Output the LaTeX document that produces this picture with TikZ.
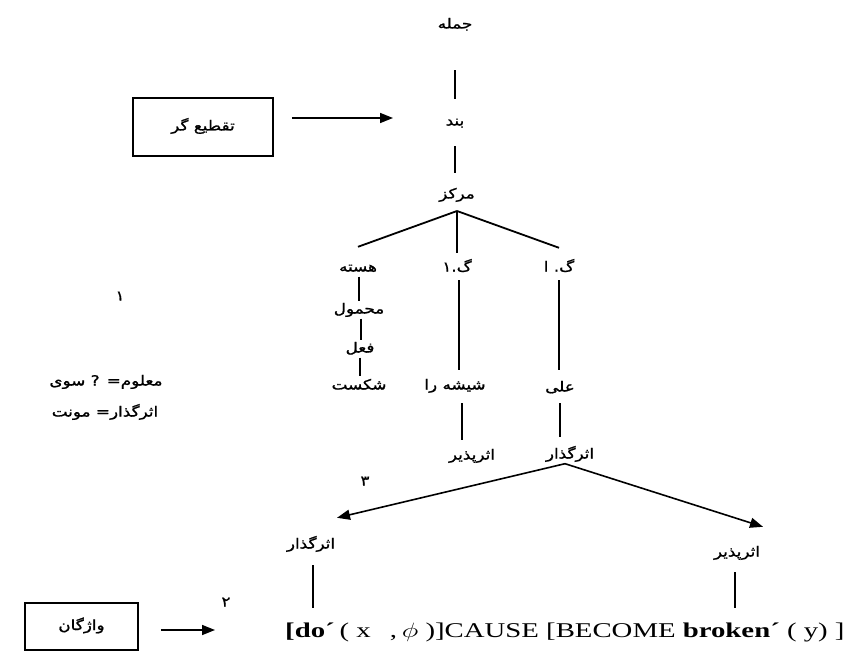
\documentclass[tikz,border=0pt]{standalone}
\usepackage{fontspec}
\usepackage{graphicx}
\setmainfont{Liberation Serif}
\newfontfamily\fa[Script=Arabic, FakeStretch=1.2, FakeBold=1.2]{DejaVu Sans}
\usetikzlibrary{arrows.meta}
\newcommand\cl[1]{\hbox{#1}}
\begin{document}
\begin{tikzpicture}[x=1pt,y=-1pt,
  lbl/.style={font=\fa\fontsize{14}{16}\selectfont, inner sep=0pt, text height=12pt, text depth=5pt},
  ln/.style={line width=1.8pt},
  arr/.style={line width=1.6pt, -{Triangle[length=13pt,width=10pt]}},
  boxed/.style={draw, line width=1.8pt, inner sep=0pt}]
\fill[white] (0,0) rectangle (850,652);
\useasboundingbox (0,0) rectangle (850,652);
% tree nodes
\node[lbl] (jomle) at (455,25) {جمله};
\node[lbl] (band) at (455,122) {بند};
\node[lbl] (markaz) at (457,195) {\cl{کز}\cl{مر}};
\coordinate (apex) at (457,211);
\node[lbl] (haste) at (358,268) {هسته};
\node[lbl] (ga1) at (457,268) {\cl{۱}\cl{.}\cl{گ}};
\node[lbl] (ga2) at (559,268) {\cl{ا}\ \cl{.}\cl{گ}};
\node[lbl] (mahmul) at (359,310) {\cl{ل}\cl{محمو}};
\node[lbl] (feel) at (360,349) {فعل};
\node[lbl] (shekast) at (359,386) {شکست};
\node[lbl] (shishe) at (455,386) {\cl{ا}\cl{ر}\ \cl{شیشه}};
\node[lbl] (ali) at (560,388) {علی};
\node[lbl] (asarpaz1) at (472,456) {\cl{یر}\cl{پذ}\cl{ثر}\cl{ا}};
\node[lbl] (asargoz1) at (570,455) {\cl{ر}\cl{ا}\cl{گذ}\cl{ثر}\cl{ا}};
\coordinate (split) at ([xshift=-5pt]asargoz1.south);
\node[lbl] (asargoz2) at (311,545) {\cl{ر}\cl{ا}\cl{گذ}\cl{ثر}\cl{ا}};
\node[lbl] (asarpaz2) at (737,553) {\cl{یر}\cl{پذ}\cl{ثر}\cl{ا}};
\node[anchor=base west, inner sep=0pt, text height=15pt, text depth=6pt] (formula) at (285,637)
  {\scalebox{1.37}[1]{\fontsize{21}{24}\selectfont\textbf{[do´}\,( x\hspace{14pt},\,$\phi$ )]CAUSE [BECOME \textbf{broken´} ( y) ]}};
% numbers and side notes
\node[lbl] (n1) at (120,297) {۱};
\node[lbl] (n2) at (226,603) {۲};
\node[lbl] (n3) at (365,482) {۳};
\node[lbl] (note1) at (106,382) {\cl{ی}\cl{سو} ? =\cl{م}\cl{معلو}};
\node[lbl] (note2) at (105,413) {\cl{نت}\cl{مو} =\cl{ر}\cl{ا}\cl{گذ}\cl{ثر}\cl{ا}};
% boxes
\node[boxed, lbl, minimum width=140pt, minimum height=58pt] (taqti) at (203,127) {\cl{گر}\ \cl{تقطیع}};
\node[boxed, lbl, minimum width=113pt, minimum height=47pt] (vaz) at (81.5,626.5) {\cl{ن}\cl{گا}\cl{ژ}\cl{ا}\cl{و}};
% tree lines
\draw[ln, shorten <=36.5pt, shorten >=14.5pt] (jomle.south) -- (jomle.south |- band.north);
\draw[ln, shorten <=15.5pt, shorten >=13.5pt] (band.south) -- (band.south |- markaz.north);
\draw[ln] (apex) -- ([yshift=12.5pt]haste.north);
\draw[ln] (apex) -- ([yshift=6.5pt]ga1.north);
\draw[ln] (apex) -- ([yshift=11.5pt]ga2.north);
\draw[ln] ([xshift=1pt]haste.south) -- ([xshift=1pt]haste.south |- mahmul.north);
\draw[ln] ([xshift=2pt]mahmul.south) -- ([xshift=2pt]mahmul.south |- feel.north);
\draw[ln, shorten >=1pt] (feel.south) -- (feel.south |- shekast.north);
\draw[ln, shorten <=3.5pt, shorten >=7.5pt] ([xshift=2pt]ga1.south) -- ([xshift=2pt]ga1.south |- shishe.north);
\draw[ln, shorten <=3.5pt, shorten >=9.5pt] (ga2.south) -- (ga2.south |- ali.north);
\draw[ln, shorten <=8.5pt, shorten >=7.5pt] ([xshift=7pt]shishe.south) -- ([xshift=7pt]shishe.south |- asarpaz1.north);
\draw[ln, shorten <=6.5pt, shorten >=9.5pt] (ali.south) -- (ali.south |- asargoz1.north);
\draw[arr] (split) -- ([xshift=26pt,yshift=18.5pt]asargoz2.north);
\draw[arr] (split) -- ([xshift=26pt,yshift=17.5pt]asarpaz2.north);
\draw[ln, shorten <=11.5pt, shorten >=14pt] ([xshift=2pt]asargoz2.south) -- ([xshift=2pt]asargoz2.south |- formula.north);
\draw[ln, shorten <=10.5pt, shorten >=14pt] ([xshift=-2pt]asarpaz2.south) -- ([xshift=-2pt]asarpaz2.south |- formula.north);
% box arrows
\draw[arr, shorten <=18pt, shorten >=62pt] ([yshift=9pt]taqti.east) -- ([yshift=9pt]taqti.east -| band.center);
\draw[arr, shorten <=22pt, shorten >=70pt] ([yshift=-3.5pt]vaz.east) -- ([yshift=-3.5pt]vaz.east -| formula.west);
\end{tikzpicture}
\end{document}
